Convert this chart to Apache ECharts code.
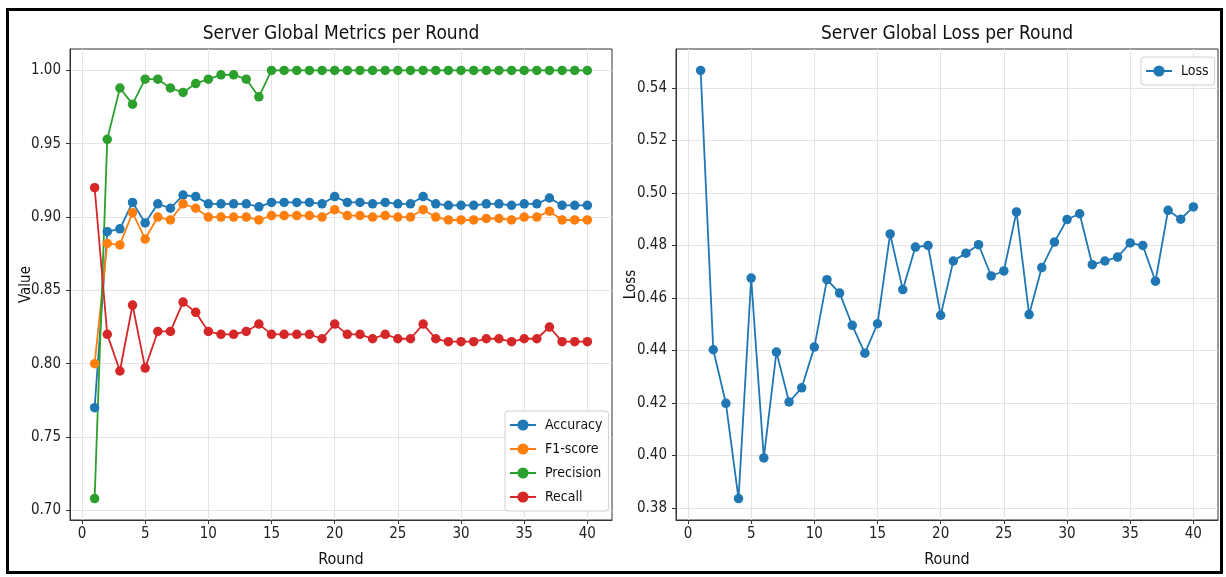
<!DOCTYPE html>
<html><head><meta charset="utf-8">
<script src="https://cdn.jsdelivr.net/npm/echarts@6/dist/echarts.min.js"></script>
<style>html,body{margin:0;padding:0;background:#fff}#c{width:1226px;height:577px}</style>
</head><body><div id="c"></div>
<script>
const rounds = [1,2,3,4,5,6,7,8,9,10,11,12,13,14,15,16,17,18,19,20,21,22,23,24,25,26,27,28,29,30,31,32,33,34,35,36,37,38,39,40];
const accuracy = [0.770,0.890,0.892,0.910,0.896,0.909,0.906,0.915,0.914,0.909,0.909,0.909,0.909,0.907,0.910,0.910,0.910,0.910,0.909,0.914,0.910,0.910,0.909,0.910,0.909,0.909,0.914,0.909,0.908,0.908,0.908,0.909,0.909,0.908,0.909,0.909,0.913,0.908,0.908,0.908];
const f1score = [0.800,0.882,0.881,0.903,0.885,0.900,0.898,0.909,0.906,0.900,0.900,0.900,0.900,0.898,0.901,0.901,0.901,0.901,0.900,0.905,0.901,0.901,0.900,0.901,0.900,0.900,0.905,0.900,0.898,0.898,0.898,0.899,0.899,0.898,0.900,0.900,0.904,0.898,0.898,0.898];
const precision = [0.708,0.953,0.988,0.977,0.994,0.994,0.988,0.985,0.991,0.994,0.997,0.997,0.994,0.982,1.0,1.0,1.0,1.0,1.0,1.0,1.0,1.0,1.0,1.0,1.0,1.0,1.0,1.0,1.0,1.0,1.0,1.0,1.0,1.0,1.0,1.0,1.0,1.0,1.0,1.0];
const recall = [0.920,0.820,0.795,0.840,0.797,0.822,0.822,0.842,0.835,0.822,0.820,0.820,0.822,0.827,0.820,0.820,0.820,0.820,0.817,0.827,0.820,0.820,0.817,0.820,0.817,0.817,0.827,0.817,0.815,0.815,0.815,0.817,0.817,0.815,0.817,0.817,0.825,0.815,0.815,0.815];
const loss = [0.5467,0.4403,0.4199,0.3836,0.4676,0.3991,0.4394,0.4204,0.4258,0.4413,0.4670,0.4619,0.4496,0.4390,0.4502,0.4844,0.4632,0.4794,0.4800,0.4534,0.4741,0.4771,0.4803,0.4684,0.4703,0.4928,0.4537,0.4716,0.4813,0.4899,0.4921,0.4727,0.4741,0.4756,0.4810,0.4800,0.4664,0.4934,0.4900,0.4947];
const xTicks = [0,5,10,15,20,25,30,35,40];
const metricTicks = [0.70,0.75,0.80,0.85,0.90,0.95,1.00];
const lossTicks = [0.38,0.40,0.42,0.44,0.46,0.48,0.50,0.52,0.54];
const metricNames = ['Accuracy','F1-score','Precision','Recall'];
const metricColors = ['#1f77b4','#ff7f0e','#2ca02c','#d62728'];

const FONT = "'DejaVu Sans Condensed','DejaVu Sans',sans-serif";
function pad(lo, hi){ const r = hi - lo; return [lo - 0.05*r, hi + 0.05*r]; }
const xR = pad(Math.min(...rounds), Math.max(...rounds));
const mR = pad(Math.min(...accuracy,...f1score,...precision,...recall), Math.max(...accuracy,...f1score,...precision,...recall));
const lR = pad(Math.min(...loss), Math.max(...loss));

function xAxis(gi){
  return {type:'value', gridIndex:gi, min:xR[0], max:xR[1],
    name:'Round', nameLocation:'middle', nameGap:32, nameMoveOverlap:false,
    nameTextStyle:{fontFamily:FONT, fontSize:16, color:'#111'},
    axisLine:{show:true, onZero:false, lineStyle:{color:'#333', width:1}},
    axisTick:{show:true, length:4, customValues:xTicks, lineStyle:{color:'#333'}},
    axisLabel:{customValues:xTicks, fontFamily:FONT, fontSize:15, color:'#222', margin:7},
    splitLine:{show:true, lineStyle:{color:'#e4e4e4', width:1}}};
}
function yAxis(gi, rng, ticks, name, gap){
  return {type:'value', gridIndex:gi, min:rng[0], max:rng[1],
    name:name, nameLocation:'middle', nameGap:gap, nameRotate:90, nameMoveOverlap:false,
    nameTextStyle:{fontFamily:FONT, fontSize:15, color:'#111'},
    axisLine:{show:true, onZero:false, lineStyle:{color:'#333', width:1}},
    axisTick:{show:true, length:4, customValues:ticks, lineStyle:{color:'#333'}},
    axisLabel:{customValues:ticks, fontFamily:FONT, fontSize:15, color:'#222', margin:9,
      formatter:v=>v.toFixed(2)},
    splitLine:{show:true, lineStyle:{color:'#e4e4e4', width:1}}};
}
function lineSeries(name, vals, color, xi, yi){
  return {type:'line', name:name, xAxisIndex:xi, yAxisIndex:yi,
    data: rounds.map((r,i)=>[r, vals[i]]),
    symbol:'circle', symbolSize:9.5, showSymbol:true,
    lineStyle:{color:color, width:1.8}, itemStyle:{color:color},
    emphasis:{disabled:true}, animation:false};
}
const metricVals = [accuracy, f1score, precision, recall];
const series = metricNames.map((n,k)=>lineSeries(n, metricVals[k], metricColors[k], 0, 0));
series.push(lineSeries('Loss', loss, '#1f77b4', 1, 1));

const chart = echarts.init(document.getElementById('c'), null, {renderer:'canvas'});
chart.setOption({
  backgroundColor:'#fff',
  animation:false,
  title:[
    {text:'Server Global Metrics per Round', left:336, top:20, textAlign:'center',
     textStyle:{fontFamily:FONT, fontSize:19, fontWeight:'normal', color:'#111'}},
    {text:'Server Global Loss per Round', left:942, top:20, textAlign:'center',
     textStyle:{fontFamily:FONT, fontSize:19, fontWeight:'normal', color:'#111'}}
  ],
  grid:[
    {left:70, top:49, width:542, height:471, show:true, borderColor:'#333', borderWidth:1, backgroundColor:'transparent'},
    {left:676, top:49, width:542, height:471, show:true, borderColor:'#333', borderWidth:1, backgroundColor:'transparent'}
  ],
  xAxis:[xAxis(0), xAxis(1)],
  yAxis:[yAxis(0, mR, metricTicks, 'Value', 36), yAxis(1, lR, lossTicks, 'Loss', 37)],
  legend:[
    {data:metricNames, orient:'vertical', left:505, top:411, itemWidth:26, itemHeight:14, itemGap:10,
     padding:[7,6,7,4], backgroundColor:'#fff', borderColor:'#d0d0d0', borderWidth:1, borderRadius:3,
     textStyle:{fontFamily:FONT, fontSize:14, lineHeight:14, color:'#111', padding:[0,0,0,4]}},
    {data:['Loss'], orient:'vertical', left:1141, top:57, itemWidth:26, itemHeight:14,
     padding:[7,6,7,4], backgroundColor:'#fff', borderColor:'#d0d0d0', borderWidth:1, borderRadius:3,
     textStyle:{fontFamily:FONT, fontSize:14, lineHeight:14, color:'#111', padding:[0,0,0,4]}}
  ],
  graphic:[
    {type:'rect', shape:{x:7.5, y:9.5, width:1214, height:563}, style:{fill:null, stroke:'#000', lineWidth:3}, silent:true, z:100}
  ],
  series: series
});
</script>
</body></html>
